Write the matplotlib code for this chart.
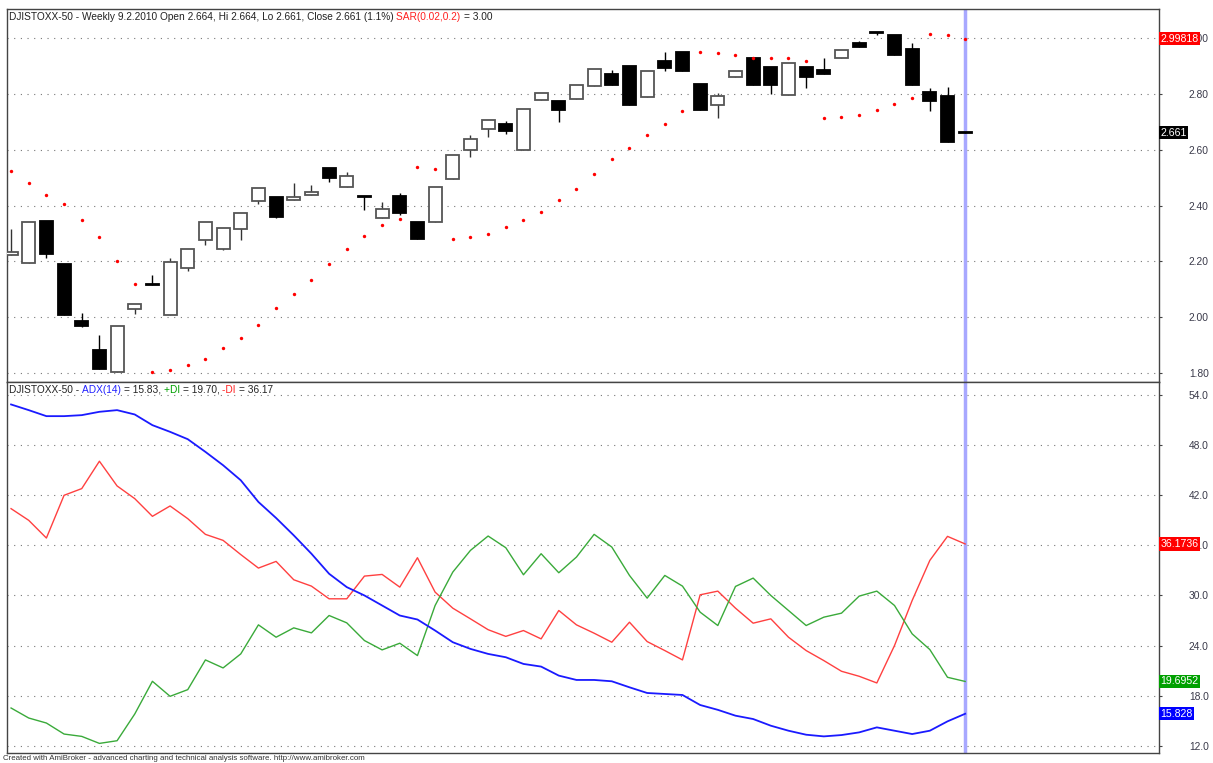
import matplotlib
matplotlib.use('Agg')
import matplotlib.pyplot as plt
import matplotlib.transforms as mtransforms

plt.rcParams['font.family'] = ['Liberation Sans', 'DejaVu Sans']

# 1. Datos semanales
opens = [2.224, 2.195, 2.346, 2.191, 1.987, 1.883, 1.804, 2.030, 2.118, 2.009,
         2.177, 2.277, 2.245, 2.317, 2.417, 2.432, 2.421, 2.439, 2.535, 2.467,
         2.434, 2.356, 2.435, 2.342, 2.342, 2.496, 2.600, 2.675, 2.693, 2.600,
         2.779, 2.776, 2.783, 2.829, 2.872, 2.901, 2.790, 2.919, 2.951, 2.837,
         2.761, 2.862, 2.930, 2.897, 2.797, 2.897, 2.887, 2.930, 2.984, 3.020,
         3.012, 2.962, 2.808, 2.794, 2.664]
highs = [2.317, 2.342, 2.346, 2.191, 2.016, 1.937, 1.969, 2.048, 2.152, 2.213,
         2.245, 2.342, 2.320, 2.374, 2.464, 2.432, 2.482, 2.475, 2.535, 2.521,
         2.434, 2.414, 2.446, 2.342, 2.467, 2.582, 2.654, 2.708, 2.704, 2.747,
         2.804, 2.776, 2.833, 2.890, 2.887, 2.901, 2.883, 2.951, 2.951, 2.837,
         2.804, 2.883, 2.930, 2.897, 2.912, 2.897, 2.930, 2.958, 2.991, 3.021,
         3.012, 2.984, 2.822, 2.826, 2.664]
lows = [2.222, 2.195, 2.213, 2.009, 1.966, 1.815, 1.804, 2.012, 2.114, 2.009,
        2.166, 2.259, 2.242, 2.277, 2.406, 2.356, 2.421, 2.439, 2.485, 2.467,
        2.385, 2.356, 2.367, 2.281, 2.342, 2.496, 2.575, 2.647, 2.657, 2.600,
        2.779, 2.700, 2.783, 2.829, 2.833, 2.761, 2.790, 2.883, 2.883, 2.743,
        2.715, 2.862, 2.833, 2.801, 2.797, 2.822, 2.872, 2.930, 2.969, 3.012,
        2.941, 2.833, 2.740, 2.629, 2.661]
closes = [2.234, 2.342, 2.227, 2.009, 1.969, 1.815, 1.969, 2.048, 2.116, 2.199,
          2.245, 2.342, 2.320, 2.374, 2.464, 2.360, 2.432, 2.449, 2.500, 2.507,
          2.431, 2.389, 2.374, 2.281, 2.467, 2.582, 2.639, 2.708, 2.668, 2.747,
          2.804, 2.743, 2.833, 2.890, 2.833, 2.761, 2.883, 2.894, 2.883, 2.743,
          2.794, 2.883, 2.833, 2.833, 2.912, 2.862, 2.872, 2.958, 2.969, 3.019,
          2.941, 2.833, 2.776, 2.629, 2.661]
sar = [2.525, 2.482, 2.439, 2.406, 2.349, 2.288, 2.202, 2.120, 1.804, 1.811,
       1.829, 1.851, 1.890, 1.926, 1.973, 2.034, 2.084, 2.134, 2.191, 2.245,
       2.292, 2.331, 2.353, 2.539, 2.532, 2.281, 2.288, 2.299, 2.324, 2.349,
       2.378, 2.421, 2.460, 2.514, 2.568, 2.607, 2.654, 2.693, 2.740, 2.951,
       2.948, 2.941, 2.930, 2.930, 2.930, 2.919, 2.715, 2.718, 2.725, 2.743,
       2.765, 2.786, 3.016, 3.012, 2.998]

adx = [52.88, 52.2, 51.48, 51.48, 51.6, 52.0, 52.2, 51.68, 50.4, 49.6,
       48.72, 47.2, 45.6, 43.8, 41.2, 39.28, 37.2, 35.0, 32.6, 31.0,
       30.0, 28.8, 27.6, 27.12, 25.8, 24.4, 23.6, 23.0, 22.6, 21.8,
       21.48, 20.4, 19.88, 19.88, 19.72, 19.0, 18.32, 18.2, 18.08, 16.88,
       16.3, 15.6, 15.2, 14.4, 13.8, 13.32, 13.12, 13.28, 13.6, 14.2,
       13.8, 13.4, 13.8, 14.92, 15.83]
plus_di = [16.52, 15.32, 14.72, 13.4, 13.12, 12.28, 12.6, 15.8, 19.72, 17.92,
           18.72, 22.28, 21.32, 23.0, 26.48, 25.0, 26.12, 25.52, 27.6, 26.72,
           24.6, 23.48, 24.28, 22.8, 28.8, 32.8, 35.4, 37.12, 35.72, 32.48,
           35.0, 32.72, 34.6, 37.32, 35.8, 32.4, 29.68, 32.4, 31.12, 28.0,
           26.4, 31.08, 32.08, 30.0, 28.2, 26.4, 27.4, 27.88, 29.92, 30.52,
           28.8, 25.4, 23.52, 20.2, 19.70]
minus_di = [40.4, 39.0, 36.88, 42.0, 42.8, 46.08, 43.12, 41.6, 39.48, 40.72,
            39.2, 37.32, 36.6, 34.9, 33.28, 34.08, 31.88, 31.12, 29.6, 29.6,
            32.32, 32.52, 31.0, 34.52, 30.4, 28.48, 27.2, 25.9, 25.1, 25.8,
            24.8, 28.2, 26.48, 25.48, 24.4, 26.8, 24.48, 23.4, 22.28, 30.08,
            30.52, 28.48, 26.68, 27.2, 25.0, 23.4, 22.2, 20.92, 20.32, 19.52,
            24.0, 29.4, 34.2, 37.08, 36.17]

price_ticks = [1.80, 2.00, 2.20, 2.40, 2.60, 2.80, 3.00]
adx_ticks = [12, 18, 24, 30, 36, 42, 48, 54]

W, H = 1213, 763
x = list(range(len(closes)))

fig = plt.figure(figsize=(W / 100, H / 100), dpi=100)
fig.patch.set_facecolor('white')
ax1 = fig.add_axes([7 / W, 1 - 382 / H, (1159 - 7) / W, (382 - 9) / H])
ax2 = fig.add_axes([7 / W, 1 - 753 / H, (1159 - 7) / W, (753 - 382) / H])

for ax in (ax1, ax2):
    ax.set_xlim(-0.23, 64.97)
    ax.set_xticks([])
    ax.yaxis.tick_right()
    ax.tick_params(axis='y', direction='out', length=2, pad=19.5, labelsize=7.4,
                   labelcolor='#3a3a4a', color='#444444')
    ax.grid(axis='y', linestyle=(0, (1, 5)), color='#777777', lw=0.8)
    for s in ax.spines.values():
        s.set_color('#444444')
        s.set_linewidth(1)
    ax.axvline(54, color='#a8a8ff', lw=2.5, zorder=1)

# 2. Velas
ax1.set_ylim(1.768, 3.105)
ax1.set_yticks(price_ticks)
ax1.set_yticklabels(['%.2f' % t for t in price_ticks])

for i in x:
    o, h, l, c = opens[i], highs[i], lows[i], closes[i]
    up = c > o
    ax1.vlines(i, l, h, color='#333333' if up else '#000000', lw=1, zorder=2)
    body = max(abs(c - o), 0.003)
    ax1.bar(i, body, bottom=min(o, c), width=0.74, zorder=3,
            color='white' if up else 'black',
            edgecolor='#555555' if up else 'black', lw=1.3)

ax1.scatter(x, sar, s=6, marker='o', color='#ff0000', lw=0, zorder=4)

blend1 = mtransforms.blended_transform_factory(ax1.transAxes, ax1.transData)
ax1.text(1.001, sar[-1], '2.99818', transform=blend1, color='white', fontsize=7.6,
         va='center', ha='left', zorder=10, clip_on=False,
         bbox=dict(boxstyle='square,pad=0.15', fc='#ff0000', ec='none'))
ax1.text(1.001, closes[-1], '2.661', transform=blend1, color='white', fontsize=7.6,
         va='center', ha='left', zorder=10, clip_on=False,
         bbox=dict(boxstyle='square,pad=0.15', fc='black', ec='none'))

# 3. ADX / DI
ax2.set_ylim(11.13, 55.57)
ax2.set_yticks(adx_ticks)
ax2.set_yticklabels(['%.1f' % t for t in adx_ticks])
ax2.plot(x, minus_di, color='#ff4040', lw=1, zorder=3)
ax2.plot(x, plus_di, color='#3aaa3a', lw=1, zorder=3)
ax2.plot(x, adx, color='#1a1aff', lw=1.3, zorder=3)

blend2 = mtransforms.blended_transform_factory(ax2.transAxes, ax2.transData)
for val, txt, col in [(minus_di[-1], '36.1736', '#ff0000'),
                      (plus_di[-1], '19.6952', '#00a000'),
                      (adx[-1], '15.828', '#0000ff')]:
    ax2.text(1.001, val, txt, transform=blend2, color='white', fontsize=7.6,
             va='center', ha='left', zorder=10, clip_on=False,
             bbox=dict(boxstyle='square,pad=0.15', fc=col, ec='none'))

# 4. Titulos con varios colores
renderer = fig.canvas.get_renderer()


def multicolor(x_px, y_px, parts, size=7.3):
    for s, col in parts:
        t = fig.text(x_px / W, 1 - y_px / H, s, color=col, fontsize=size,
                     va='center', ha='left')
        x_px += t.get_window_extent(renderer=renderer).width


multicolor(9, 17, [
    ('DJISTOXX-50 - Weekly 9.2.2010 Open 2.664, Hi 2.664, Lo 2.661, Close 2.661 (1.1%) ', '#222222'),
    ('SAR(0.02,0.2) ', '#ff2020'),
    ('= 3.00', '#222222'),
])
multicolor(9, 390, [
    ('DJISTOXX-50 - ', '#222222'),
    ('ADX(14) ', '#2020ff'),
    ('= 15.83, ', '#222222'),
    ('+DI ', '#00a000'),
    ('= 19.70, ', '#222222'),
    ('-DI ', '#ff2020'),
    ('= 36.17', '#222222'),
])

fig.text(3 / W, 1 - 759 / H,
         'Created with AmiBroker - advanced charting and technical analysis software. http://www.amibroker.com',
         fontsize=5.7, va='center', ha='left', color='#333333')

fig.savefig('out.png', dpi=100)
